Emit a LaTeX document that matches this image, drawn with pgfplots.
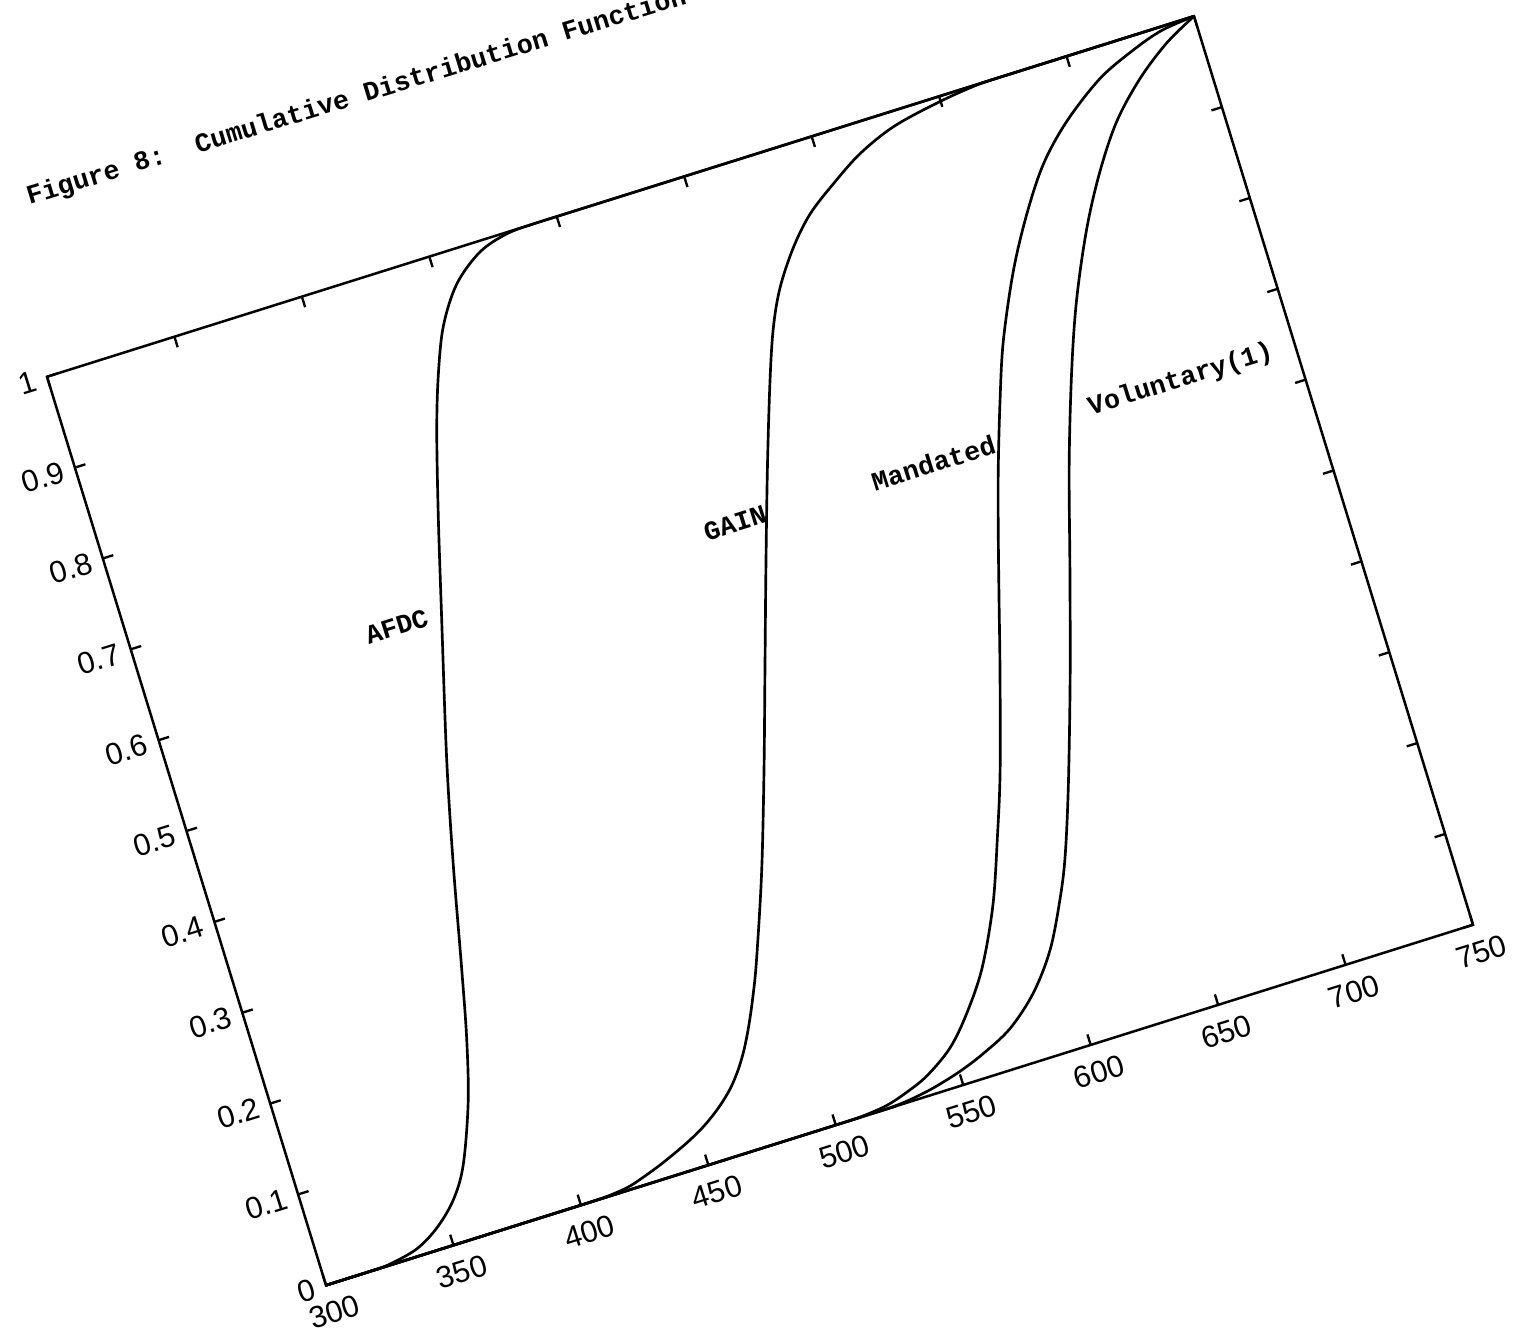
\documentclass[border=0pt]{standalone}
\usepackage{fontspec}
\setmainfont{Liberation Sans}
\newfontfamily\monof{Liberation Mono}
\usepackage{pgfplots}
\pgfplotsset{compat=1.18}
\pgfplotstableread{
x y
300 0
309 0
318 0.0002
325 0.001
336.4 0.0078
345.9 0.0225
354.9 0.0454
362.3 0.0774
371.0 0.1391
377.4 0.2028
383.3 0.2746
391.8 0.3827
401.0 0.4902
414.5 0.6313
424.8 0.7378
433.5 0.8226
440.2 0.8783
447.4 0.9259
456.8 0.9638
468.6 0.9886
480.4 0.9985
492 1
504 1
516 1
750 1
}\afdc
\pgfplotstableread{
x y
300 0
390 0
400 0
409 0.0004
414.3 0.0015
419.7 0.0037
426.1 0.0090
432.7 0.0153
439.4 0.0227
446.2 0.0310
452.3 0.0399
457.6 0.0495
462.3 0.0597
466.7 0.0712
471.1 0.0861
475.4 0.1043
479.9 0.1278
484.7 0.1566
489.9 0.1916
501.3 0.2776
513.2 0.3779
524.6 0.4786
536.0 0.5794
547.6 0.6800
558.1 0.7667
565.2 0.8196
572.0 0.8578
581.2 0.8941
590.9 0.9226
602.5 0.9455
615.4 0.9674
630.3 0.9839
648.5 0.9940
665 0.9995
680 1
695 1
750 1
}\gain
\pgfplotstableread{
x y
300 0
494 0
503 0
511 0.0006
520.2 0.0035
528.3 0.0099
537.9 0.0205
549.3 0.0413
559.1 0.0707
569.6 0.1115
580.4 0.1713
589.6 0.2391
597.7 0.3036
608.7 0.4045
616.1 0.4755
623.5 0.5460
630.1 0.6063
638.2 0.6740
646.0 0.7336
657.3 0.8009
668.4 0.8540
679.8 0.8989
692.9 0.9346
709.5 0.9671
724.6 0.9853
737.0 0.9960
750 1
}\mandated
\pgfplotstableread{
x y
300 0
507 0
516 0
525 0.0008
532 0.0030
539.7 0.0069
550.3 0.0147
560.6 0.0252
572.9 0.0418
585.2 0.0703
595.9 0.1081
604.9 0.1552
611.5 0.1968
620.5 0.2673
632.9 0.3742
644.6 0.4818
656.1 0.5896
667.2 0.6821
676.8 0.7522
688.3 0.8207
699.3 0.8739
710.8 0.9188
723.8 0.9544
737.3 0.9818
750 1
}\voluntary
\begin{document}
\begin{tikzpicture}
\begin{axis}[
  x={(0.76467pt,0.24033pt)}, y={(-83.7pt,272.55pt)},
  xmin=300, xmax=750, ymin=0, ymax=1,
  axis lines=box,
  clip=false,
  xtick={300,350,400,450,500,550,600,650,700,750},
  xticklabels={300,350,400,450,500,550,600,650,700,750},
  ytick={0,0.1,0.2,0.3,0.4,0.5,0.6,0.7,0.8,0.9,1},
  yticklabels={0,0.1,0.2,0.3,0.4,0.5,0.6,0.7,0.8,0.9,1},
  tick align=inside,
  major tick length=3.3pt,
  every tick/.style={black, line width=0.7pt},
  axis line style={line width=0.75pt},
  xticklabel style={font=\fontsize{9.2}{10}\selectfont, rotate=17.45, anchor=north, inner ysep=5.0pt, inner xsep=0pt},
  yticklabel style={font=\fontsize{9.2}{10}\selectfont, rotate=17.3, anchor=east, inner xsep=3.4pt, inner ysep=0pt},
  mystyle/.style={black, no markers, line width=0.8pt, smooth, tension=0.55},
]
\addplot[mystyle] table[x=x,y=y] {\afdc};
\addplot[mystyle] table[x=x,y=y] {\gain};
\addplot[mystyle] table[x=x,y=y] {\mandated};
\addplot[mystyle] table[x=x,y=y] {\voluntary};
\coordinate (O) at (axis cs:300,0);
\node[font=\monof\bfseries\fontsize{8}{9}\selectfont, rotate=17.4, inner sep=0pt] at (axis cs:397.7,0.639) {AFDC};
\node[font=\monof\bfseries\fontsize{8}{9}\selectfont, rotate=17.4, inner sep=0pt] at (axis cs:530.1,0.636) {GAIN};
\node[font=\monof\bfseries\fontsize{8}{9}\selectfont, rotate=17.4, inner sep=0pt] at (axis cs:607.7,0.634) {Mandated};
\node[font=\monof\bfseries\fontsize{8}{9}\selectfont, rotate=17.4, inner sep=0pt] at (axis cs:705.3,0.639) {Voluntary(1)};
\end{axis}
\node[font=\monof\bfseries\fontsize{8}{9}\selectfont, rotate=17, anchor=base west, inner sep=0pt] at ([shift={(-89.1pt,324.1pt)}]O) {Figure 8:\ \ Cumulative Distribution Function};
\pgfresetboundingbox
\path[use as bounding box] ([shift={(-97.8pt,385.575pt)}]O) rectangle ([shift={(359.1pt,-17.025pt)}]O);
\end{tikzpicture}
\end{document}
